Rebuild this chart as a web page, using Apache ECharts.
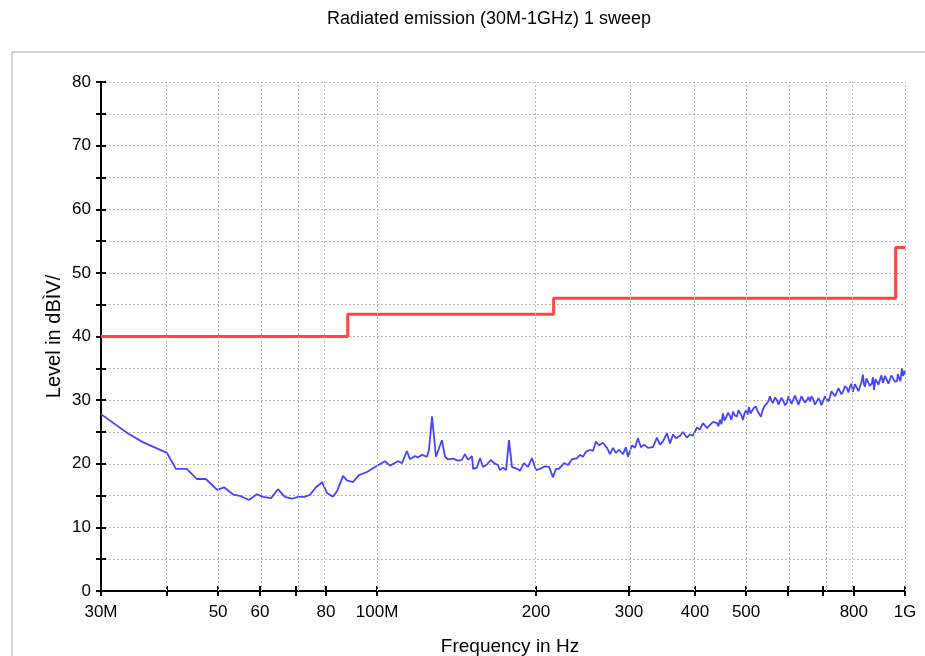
<!DOCTYPE html>
<html>
<head>
<meta charset="utf-8">
<title>Radiated emission (30M-1GHz) 1 sweep</title>
<script src="https://cdn.jsdelivr.net/npm/echarts@6/dist/echarts.min.js"></script>
<style>
  html, body { margin: 0; padding: 0; background: #ffffff; }
  #chart { width: 925px; height: 656px; }
</style>
</head>
<body>
<div id="chart"></div>
<script>
// Measured emission trace: frequency (MHz) and level (dBµV/m)
const sweepFreq = [
  30.0, 33.7, 36.0, 40.0, 41.6, 43.6, 45.6, 47.4, 49.8, 51.3,
  53.3, 55.2, 57.2, 59.2, 60.8, 63.0, 64.9, 66.9, 69.0, 70.8,
  72.7, 74.6, 76.6, 78.7, 80.4, 82.5, 84.0, 86.2, 87.7, 90.0,
  92.4, 95.7, 99.1, 103.5, 105.8, 109.6, 111.5, 113.9, 115.4, 118.0,
  119.5, 121.7, 124.3, 125.4, 127.1, 129.3, 130.4, 132.7, 134.5, 136.2,
  139.3, 142.3, 144.8, 146.7, 148.7, 151.3, 152.0, 154.6, 156.7, 158.7,
  161.5, 164.4, 166.5, 169.4, 170.9, 173.2, 175.5, 177.8, 180.1, 184.1,
  186.5, 189.8, 193.1, 196.5, 200.0, 203.5, 208.0, 211.7, 215.4, 218.2,
  221.1, 223.0, 226.0, 230.0, 234.0, 239.2, 242.3, 245.5, 248.7, 253.1,
  256.4, 259.8, 263.2, 267.9, 272.6, 276.2, 279.8, 283.5, 287.2, 292.3,
  296.1, 298.7, 304.0, 308.0, 312.0, 316.1, 320.3, 325.9, 333.1, 339.0,
  343.4, 348.0, 354.1, 358.8, 363.5, 368.3, 374.7, 379.7, 386.4, 391.4,
  396.6, 403.6, 408.9, 414.3, 421.6, 427.1, 432.8, 440.3, 443.0, 446.2,
  449.0, 452.0, 455.0, 458.0, 462.0, 466.1, 469.0, 472.2, 476.0, 480.5,
  483.5, 486.8, 490.0, 493.3, 496.5, 499.8, 503.0, 506.3, 509.5, 513.0,
  517.5, 522.1, 525.5, 528.9, 533.5, 537.0, 540.5, 545.0, 550.1, 554.9,
  558.5, 562.2, 567.0, 572.1, 575.8, 579.6, 583.5, 587.3, 592.5, 597.6,
  601.5, 605.5, 609.5, 613.4, 618.8, 624.2, 628.3, 632.5, 636.6, 640.8,
  646.5, 652.1, 656.4, 660.7, 665.0, 669.4, 675.3, 681.2, 685.6, 690.1,
  694.6, 699.2, 705.3, 711.4, 716.1, 720.8, 725.5, 730.3, 736.7, 743.1,
  748.0, 752.9, 757.8, 762.8, 769.5, 776.3, 781.4, 786.5, 791.7, 796.9,
  803.9, 810.9, 816.2, 821.6, 827.0, 832.4, 836.0, 839.7, 845.2, 850.8,
  858.2, 865.7, 869.5, 873.3, 879.0, 884.8, 890.6, 896.5, 902.4, 908.3,
  916.3, 924.3, 930.3, 936.4, 942.5, 948.7, 957.0, 965.4, 969.6, 973.9,
  980.3, 986.7, 991.0, 995.3, 998.0, 1000.0
];
const sweepLevel = [
  27.8, 24.8, 23.4, 21.7, 19.2, 19.2, 17.6, 17.6, 15.9, 16.3,
  15.2, 14.9, 14.3, 15.2, 14.8, 14.6, 16.0, 14.8, 14.5, 14.8,
  14.8, 15.1, 16.3, 17.1, 15.4, 14.8, 15.7, 18.1, 17.4, 17.1,
  18.2, 18.7, 19.5, 20.4, 19.7, 20.4, 20.1, 22.0, 20.7, 21.2,
  21.0, 21.4, 21.1, 22.2, 27.4, 21.1, 21.1, 23.7, 21.1, 20.7,
  20.8, 20.5, 20.6, 21.5, 20.6, 21.2, 19.2, 19.4, 20.9, 19.5,
  19.9, 20.6, 20.1, 19.8, 19.0, 19.4, 19.0, 23.7, 19.5, 19.2,
  18.9, 20.1, 19.5, 20.9, 19.0, 19.2, 19.6, 19.5, 17.9, 19.2,
  19.2, 18.9, 20.1, 19.8, 20.7, 20.9, 21.4, 21.1, 21.9, 22.2,
  22.0, 23.5, 22.9, 23.3, 22.5, 21.5, 22.5, 21.7, 22.2, 21.5,
  22.6, 21.1, 22.9, 22.5, 24.0, 22.6, 23.0, 22.5, 22.6, 24.1,
  23.0, 23.5, 24.8, 23.2, 24.6, 24.0, 24.4, 25.0, 24.1, 24.6,
  24.4, 25.7, 25.4, 26.4, 25.6, 26.1, 26.6, 26.4, 25.9, 26.9,
  26.2, 27.9, 26.8, 27.2, 28.0, 27.5, 26.9, 28.2, 27.6, 27.4,
  28.4, 28.0, 27.6, 26.9, 27.9, 28.4, 27.7, 28.9, 27.9, 28.2,
  28.8, 29.0, 28.3, 28.0, 27.4, 28.3, 28.9, 29.3, 29.7, 30.6,
  29.9, 29.5, 30.4, 30.0, 29.3, 29.5, 30.4, 30.0, 29.2, 29.6,
  30.6, 30.3, 29.4, 29.6, 30.7, 30.5, 29.3, 29.5, 30.6, 30.4,
  29.6, 30.0, 30.5, 29.8, 30.6, 30.2, 29.3, 29.5, 30.3, 29.9,
  29.2, 29.4, 30.6, 30.3, 29.8, 30.5, 31.4, 31.1, 30.6, 31.3,
  31.9, 31.7, 30.9, 31.3, 32.2, 31.9, 31.2, 32.1, 32.6, 31.3,
  32.5, 32.2, 31.4, 31.7, 32.8, 34.0, 32.5, 32.1, 33.4, 33.2,
  32.2, 32.7, 33.6, 31.6, 33.3, 32.9, 32.4, 33.2, 33.9, 32.7,
  33.8, 33.5, 32.6, 32.9, 33.9, 33.6, 32.9, 33.0, 34.1, 33.5,
  33.0, 35.0, 33.8, 33.5, 34.6, 34.0
];

// Limit line breakpoints (MHz) and levels; each level holds until the next breakpoint
const limitFreq = [30, 88, 216, 960, 1000];
const limitLevel = [40, 43.5, 46, 54, 54];

// Frequency axis marks (MHz)
const gridFreqs = [40, 50, 60, 70, 80, 100, 200, 300, 400, 500, 600, 700, 800, 1000];
const tickFreqs = [30, 40, 50, 60, 70, 80, 100, 200, 300, 400, 500, 600, 700, 800, 1000];
const labelFreqs = [30, 50, 60, 80, 100, 200, 300, 400, 500, 800, 1000];
const labelTexts = ['30M', '50', '60', '80', '100M', '200', '300', '400', '500', '800', '1G'];

const lg = v => Math.log10(v);
const labelFor = v => {
  const f = Math.round(Math.pow(10, v));
  const i = labelFreqs.indexOf(f);
  return i >= 0 ? labelTexts[i] : '';
};

const FONT = "'Liberation Sans', Arial, sans-serif";
const gridLine = { color: '#b9b9b9', width: 1, type: [2, 2] };

const xBase = {
  type: 'value',
  min: lg(30),
  max: lg(1000),
  splitLine: { show: false },
  axisLine: { onZero: false }
};
const yBase = {
  type: 'value',
  min: 0,
  max: 80,
  interval: 5
};

const chart = echarts.init(document.getElementById('chart'), null, { renderer: 'canvas' });
chart.setOption({
  animation: false,
  backgroundColor: '#ffffff',
  title: {
    text: 'Radiated emission (30M-1GHz) 1 sweep',
    left: 484,
    top: 5,
    textAlign: 'center',
    textStyle: { fontFamily: FONT, fontSize: 18, fontWeight: 'normal', color: '#000' }
  },
  graphic: [{
    type: 'rect',
    shape: { x: 12, y: 52, width: 940, height: 640 },
    style: { fill: 'none', stroke: '#a9a9a9', lineWidth: 1 },
    silent: true,
    z: -1
  }],
  grid: { left: 101, right: 20, top: 82, bottom: 65, outerBoundsMode: 'none', containLabel: false },
  xAxis: [
    Object.assign({}, xBase, {
      name: 'Frequency in Hz',
      nameLocation: 'middle',
      nameGap: 46,
      nameMoveOverlap: false,
      nameTextStyle: { fontFamily: FONT, fontSize: 19, color: '#000', padding: [0, 0, 0, 14] },
      axisLine: { show: true, onZero: false, lineStyle: { color: '#000', width: 2 } },
      axisTick: {
        show: true, inside: false, length: 5,
        customValues: tickFreqs.map(lg),
        lineStyle: { color: '#000', width: 2 }
      },
      axisLabel: {
        customValues: labelFreqs.map(lg),
        formatter: labelFor,
        margin: 13,
        fontFamily: FONT, fontSize: 17, color: '#000'
      }
    }),
    Object.assign({}, xBase, {
      position: 'bottom',
      axisLine: { show: false, onZero: false },
      axisTick: {
        show: true, inside: true, length: 5,
        customValues: tickFreqs.map(lg),
        lineStyle: { color: '#000', width: 2 }
      },
      axisLabel: { show: false }
    })
  ],
  yAxis: [
    Object.assign({}, yBase, {
      name: 'Level in dBÌV/',
      nameLocation: 'middle',
      nameGap: 37,
      nameMoveOverlap: false,
      nameTextStyle: { fontFamily: FONT, fontSize: 20, color: '#000' },
      axisLine: { show: true, lineStyle: { color: '#000', width: 2 } },
      axisTick: { show: true, inside: false, length: 5, lineStyle: { color: '#000', width: 2 } },
      axisLabel: {
        margin: 10,
        formatter: v => (v % 10 === 0 ? String(v) : ''),
        fontFamily: FONT, fontSize: 17, color: '#000'
      },
      splitLine: { show: true, lineStyle: gridLine }
    }),
    Object.assign({}, yBase, {
      position: 'left',
      axisLine: { show: false },
      axisTick: { show: true, inside: true, length: 5, lineStyle: { color: '#000', width: 2 } },
      axisLabel: { show: false },
      splitLine: { show: false }
    })
  ],
  series: [
    {
      name: 'grid',
      type: 'line',
      data: [],
      silent: true,
      markLine: {
        silent: true,
        symbol: ['none', 'none'],
        label: { show: false },
        lineStyle: gridLine,
        emphasis: { disabled: true },
        animation: false,
        data: gridFreqs.map(f => ({ xAxis: lg(f) }))
      },
      z: 1
    },
    {
      name: 'Limit',
      type: 'line',
      step: 'end',
      showSymbol: false,
      data: limitFreq.map((f, i) => [lg(f), limitLevel[i]]),
      lineStyle: { color: '#ff4545', width: 3 },
      itemStyle: { color: '#ff4545' },
      z: 4
    },
    {
      name: 'Level',
      type: 'line',
      showSymbol: false,
      data: sweepFreq.map((f, i) => [lg(f), sweepLevel[i]]),
      lineStyle: { color: '#4545ff', width: 1.8 },
      itemStyle: { color: '#4545ff' },
      z: 3
    }
  ]
});
</script>
</body>
</html>
